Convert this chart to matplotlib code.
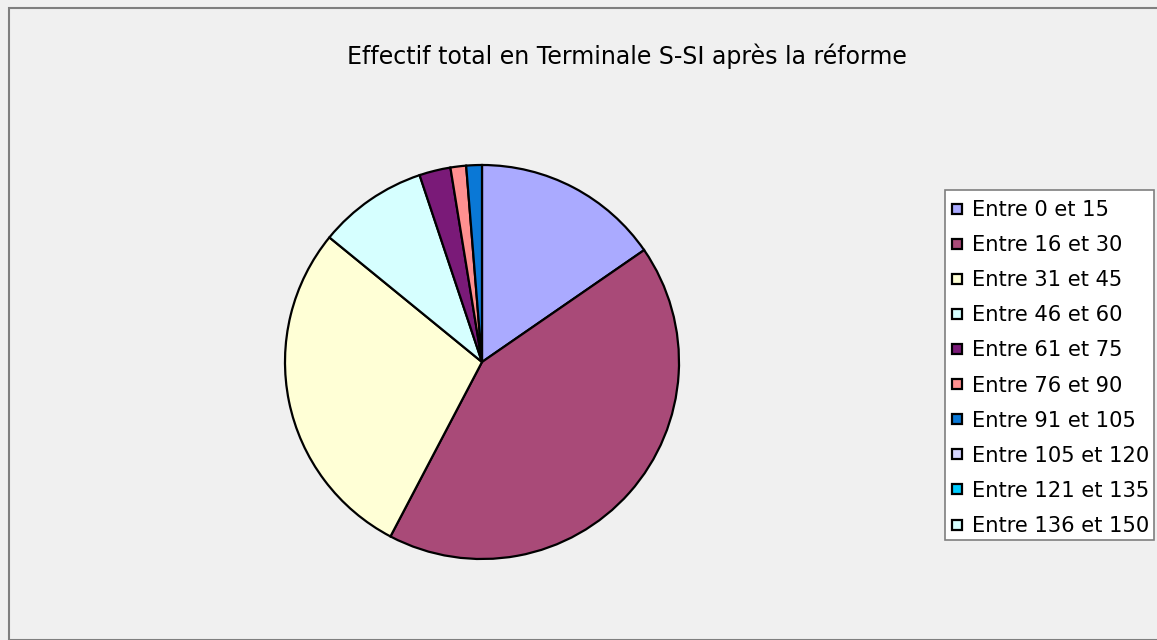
import matplotlib
matplotlib.use("Agg")
import matplotlib.pyplot as plt
from matplotlib.patches import Rectangle
from matplotlib.lines import Line2D

plt.rcParams['font.family'] = ['DejaVu Sans']

categories = ["Entre 0 et 15", "Entre 16 et 30", "Entre 31 et 45", "Entre 46 et 60",
              "Entre 61 et 75", "Entre 76 et 90", "Entre 91 et 105", "Entre 105 et 120",
              "Entre 121 et 135", "Entre 136 et 150"]
values = [12, 33, 22, 7, 2, 1, 1, 0, 0, 0]
colors = ["#AAAAFF", "#A94A78", "#FFFFD6", "#D6FFFF", "#7A1A78", "#FF9090",
          "#0A78D6", "#D6D6FF", "#00CCFF", "#D6FFFF"]
title = "Effectif total en Terminale S-SI après la réforme"

W, H = 1157, 640
fig = plt.figure(figsize=(W/100, H/100), dpi=100)
fig.patch.set_facecolor("#F0F0F0")

# outer frame
fig.patches.append(Rectangle((9/W, 0), 1.0, 1 - 8/H, transform=fig.transFigure,
                             fill=False, edgecolor="#7F7F7F", linewidth=1.5))

cx, cy, r = 482, 362, 197
ax = fig.add_axes([(cx - r)/W, 1 - (cy + r)/H, 2*r/W, 2*r/H])
nz = [(v, c) for v, c in zip(values, colors) if v > 0]
ax.pie([v for v, c in nz], colors=[c for v, c in nz], startangle=90, counterclock=False,
       wedgeprops=dict(edgecolor="black", linewidth=1.6), radius=1.0)
ax.set_xlim(-1, 1)
ax.set_ylim(-1, 1)
ax.set_aspect('equal')
ax.axis('off')

fig.text(627/W, 1 - 56/H, title, ha='center', va='center', fontsize=17, color='black')

# legend frame
fig.patches.append(Rectangle((945/W, 1 - 540/H), (1154 - 945)/W, (540 - 190)/H,
                             transform=fig.transFigure, facecolor='white',
                             edgecolor="#7F7F7F", linewidth=1.2, zorder=2))

handles = [Line2D([], [], linestyle='none', marker='s', markersize=7,
                  markerfacecolor=c, markeredgecolor='black', markeredgewidth=1.6)
           for c in colors]
leg = fig.legend(handles, categories, loc='upper left',
                 bbox_to_anchor=(947/W, 1 - 200/H), bbox_transform=fig.transFigure,
                 fontsize=15.1, frameon=False, handlelength=1.0,
                 handletextpad=0.2, labelspacing=0.72, borderpad=0, borderaxespad=0)
leg.set_zorder(5)

fig.savefig("out.png", dpi=100, facecolor=fig.get_facecolor())
